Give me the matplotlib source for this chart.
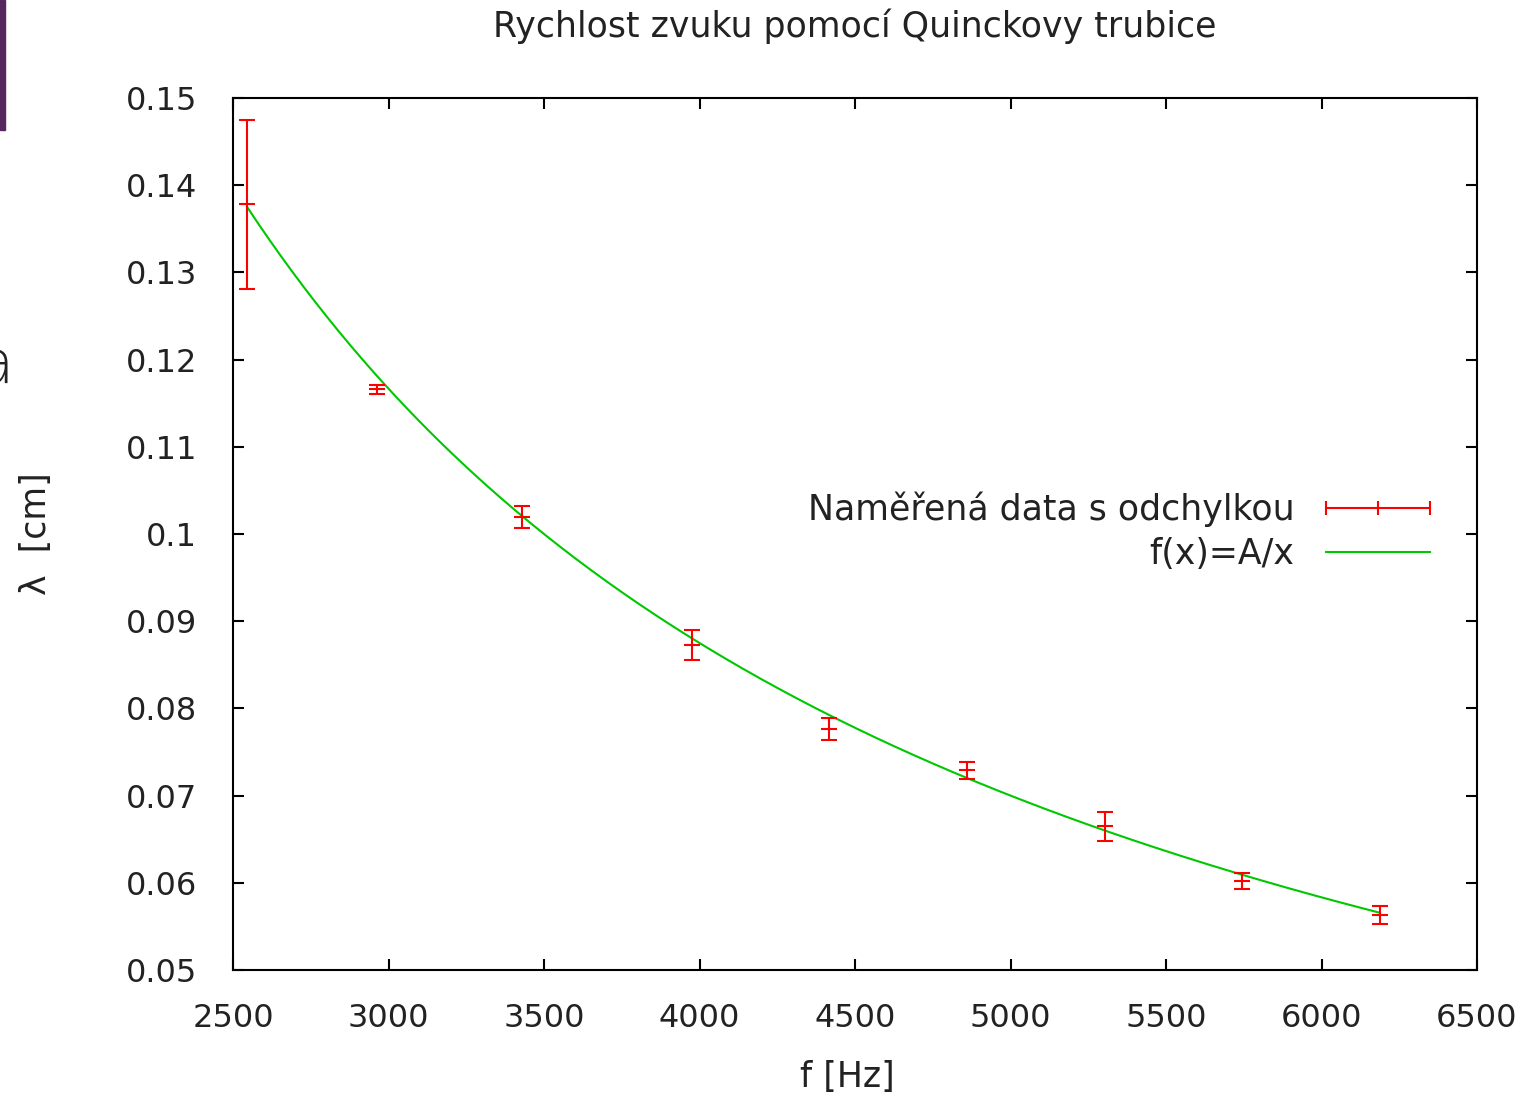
import numpy as np
import matplotlib
matplotlib.use("Agg")
import matplotlib.pyplot as plt
from matplotlib.lines import Line2D
from matplotlib.patches import Rectangle
from matplotlib.legend_handler import HandlerBase
from matplotlib.ticker import FuncFormatter

# measured data (frequency, wavelength, uncertainty)
freq = [2545, 2963, 3429, 3975, 4417, 4861, 5304, 5743, 6188]
lam = [0.1378, 0.1166, 0.1020, 0.0873, 0.0776, 0.0729, 0.0665, 0.0602, 0.0563]
lam_err = [0.0097, 0.0005, 0.00126, 0.0017, 0.00128, 0.0010, 0.00166, 0.00095, 0.0010]

# fitted parameter of f(x) = A/x
A_fit = 350.0

RED = "#ff0000"
GREEN = "#00c800"
TXT = "#222222"
FS = 23      # tick labels
FS_T = 25    # title, legend, axis labels


class HandlerHErr(HandlerBase):
    """gnuplot style legend sample: horizontal line with ticks."""
    def create_artists(self, legend, orig_handle, xdescent, ydescent,
                       width, height, fontsize, trans):
        y = height / 2 - ydescent
        x0 = -xdescent
        x1 = x0 + width
        line = Line2D([x0, x1], [y, y], color=RED, lw=1.5, transform=trans)
        ticks = Line2D([x0, (x0 + x1) / 2, x1], [y, y, y], ls="none",
                       marker="|", ms=10, mew=1.5, color=RED, transform=trans)
        return [line, ticks]


fig = plt.figure(figsize=(15.31, 11.02), dpi=100)
ax = fig.add_axes([233 / 1531, 1 - 970 / 1102, 1244 / 1531, 872 / 1102])

# slide leftovers at the left edge
fig.patches.append(Rectangle((0, 1 - 130 / 1102), 5 / 1531, 130 / 1102,
                             transform=fig.transFigure, color="#56275e"))
fig.text(14 / 1531, 1 - 366 / 1102, "a", ha="right", va="center",
         fontsize=44, color=TXT, fontweight="light")

ax.errorbar(freq, lam, yerr=lam_err, fmt="none", ecolor=RED, elinewidth=1.5,
            capsize=5.5, capthick=1.5, zorder=3)
ax.plot(freq, lam, ls="none", marker="_", ms=11, mew=1.5, color=RED, zorder=3)

xs = np.linspace(min(freq), max(freq), 300)
ax.plot(xs, A_fit / xs, color=GREEN, lw=1.5, zorder=2)

ax.set_xlim(2500, 6500)
ax.set_ylim(0.05, 0.15)
ax.set_xticks(np.arange(2500, 6501, 500))
ax.set_yticks(np.arange(0.05, 0.1501, 0.01))
ax.yaxis.set_major_formatter(FuncFormatter(lambda v, p: "%g" % round(v, 3)))

for s in ax.spines.values():
    s.set_linewidth(1.5)
ax.tick_params(direction="in", length=8, width=1.5, top=True, right=True,
               labelsize=FS, labelcolor=TXT)
ax.tick_params(axis="x", pad=24)
ax.tick_params(axis="y", pad=26)

ax.set_title("Rychlost zvuku pomocí Quinckovy trubice", fontsize=FS_T,
             color=TXT, pad=44)
ax.set_xlabel("f [Hz]", fontsize=FS_T, color=TXT)
ax.xaxis.set_label_coords(0.494, -0.103)
ax.set_ylabel("λ  [cm]", fontsize=FS_T, color=TXT)
ax.yaxis.set_label_coords(-0.145, 0.5)

h_data = Line2D([], [], color=RED)
h_fit = Line2D([], [], color=GREEN, lw=1.5)
ax.legend([h_data, h_fit], ["Naměřená data s odchylkou", "f(x)=A/x"],
          handler_map={h_data: HandlerHErr()}, loc="center right",
          bbox_to_anchor=(0.962, 0.503), borderpad=0, borderaxespad=0,
          frameon=False, markerfirst=False, fontsize=FS_T, handlelength=3.0,
          handletextpad=0.9, labelspacing=0.3, labelcolor=TXT)

fig.savefig("out.png", dpi=100)
